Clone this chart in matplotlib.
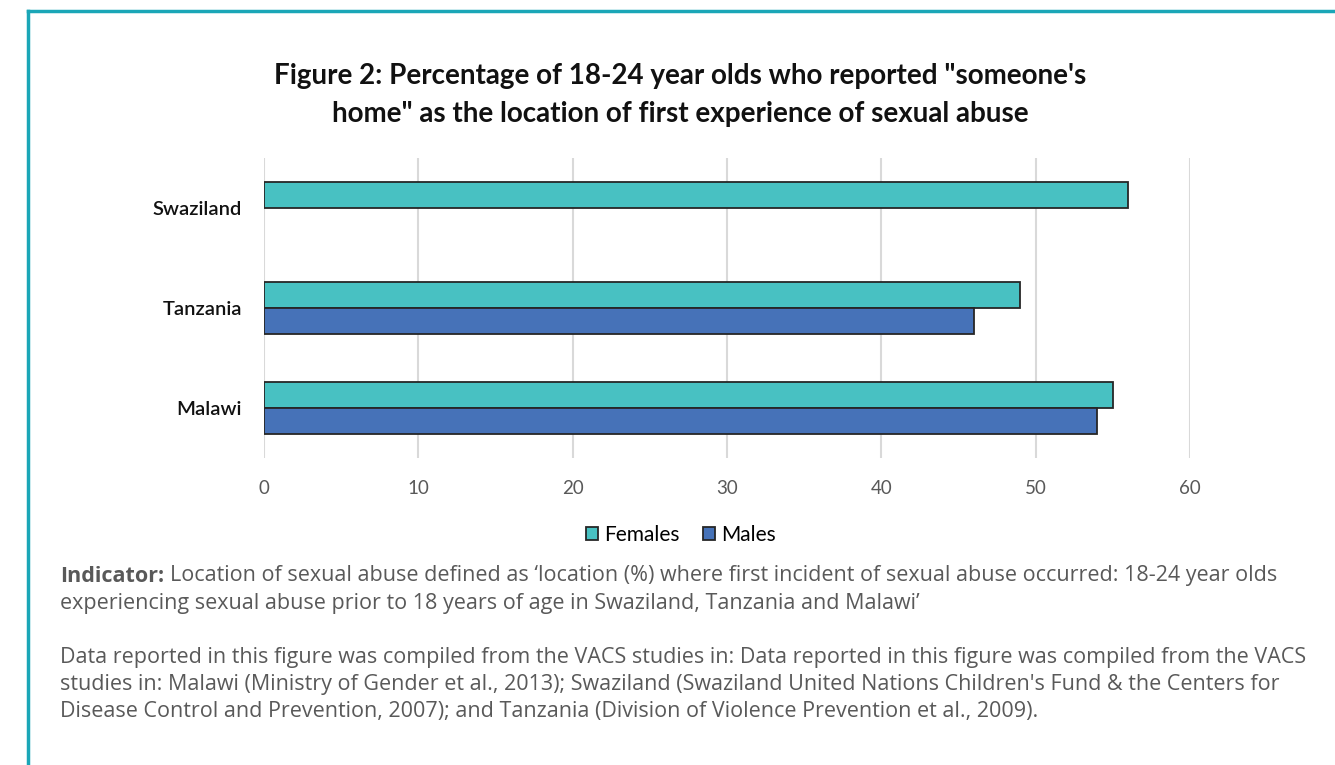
import numpy as np
import matplotlib
matplotlib.use("Agg")
import matplotlib.pyplot as plt

countries = ["Malawi", "Tanzania", "Swaziland"]
females = [55, 49, 56]
males = [54, 46, np.nan]
xticks = [0, 10, 20, 30, 40, 50, 60]

teal = "#48C1C2"
blue = "#4672B8"
edge = "#262626"

plt.rcParams["font.family"] = ["Lato", "DejaVu Sans"]

fig = plt.figure(figsize=(13.35, 7.65), dpi=100)
W, H = 1335, 765

# teal frame (top and left)
fig.add_artist(plt.Line2D([28 / W, 1.0], [1 - 11 / H, 1 - 11 / H], color="#1AA6B7", lw=2.5, transform=fig.transFigure))
fig.add_artist(plt.Line2D([28 / W, 28 / W], [0, 1 - 11 / H], color="#1AA6B7", lw=2.5, transform=fig.transFigure))

ax = fig.add_axes([264 / W, 1 - 458 / H, (1190 - 264) / W, 300 / H])
y = np.arange(len(countries))
h = 0.26
ax.barh(y + h / 2, females, height=h, color=teal, edgecolor=edge, linewidth=1.3, label="Females", zorder=3)
ax.barh(y - h / 2, males, height=h, color=blue, edgecolor=edge, linewidth=1.3, label="Males", zorder=3)

ax.set_xlim(0, 60)
ax.set_ylim(-0.5, 2.5)
ax.set_xticks(xticks)
ax.set_xticklabels([str(t) for t in xticks], fontsize=13.5, color="#595959")
ax.set_yticks(y)
ax.set_yticklabels(countries, fontsize=14.5, color="#111111", fontweight="semibold")
ax.tick_params(length=0)
ax.tick_params(axis="x", pad=16)
ax.tick_params(axis="y", pad=16)
ax.grid(axis="x", color="#D9D9D9", lw=1.5, zorder=0)
for s in ax.spines.values():
    s.set_visible(False)

fig.text(680 / W, 1 - 95 / H,
         "Figure 2: Percentage of 18-24 year olds who reported \"someone's\nhome\" as the location of first experience of sexual abuse",
         ha="center", va="center", fontsize=20, fontweight="bold", color="#111111", linespacing=1.53)

fig.legend(loc="center", bbox_to_anchor=(681 / W, 1 - 535 / H), ncol=2, frameon=False,
           fontsize=15, handlelength=0.6, handleheight=0.6, handletextpad=0.3, columnspacing=1.1)

grey = "#595959"
foot = dict(fontsize=15.5, color=grey, va="center", family=["Open Sans", "DejaVu Sans"])
bold = fig.text(60 / W, 1 - 576 / H, "Indicator:", fontweight="bold", **foot)
fig.canvas.draw()
bb = bold.get_window_extent()
fig.text((bb.x1 + 6) / W, 1 - 576 / H,
         "Location of sexual abuse defined as \u2018location (%) where first incident of sexual abuse occurred: 18-24 year olds",
         **foot)
fig.text(60 / W, 1 - 604 / H,
         "experiencing sexual abuse prior to 18 years of age in Swaziland, Tanzania and Malawi\u2019", **foot)
source_lines = [
    "Data reported in this figure was compiled from the VACS studies in: Data reported in this figure was compiled from the VACS",
    "studies in: Malawi (Ministry of Gender et al., 2013); Swaziland (Swaziland United Nations Children's Fund & the Centers for",
    "Disease Control and Prevention, 2007); and Tanzania (Division of Violence Prevention et al., 2009).",
]
for i, line in enumerate(source_lines):
    fig.text(60 / W, 1 - (658 + 26.5 * i) / H, line, **foot)

fig.savefig("out.png", dpi=100)
